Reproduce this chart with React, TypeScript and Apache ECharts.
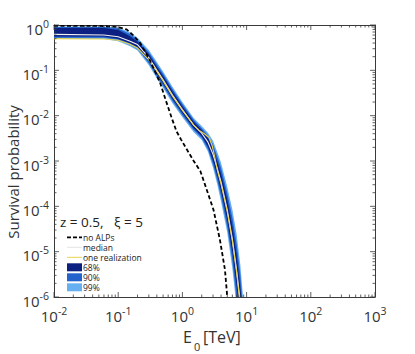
import { useEffect, useRef } from "react";
import * as echarts from "echarts";

// ---- data (E0 in TeV, survival probability) ----
const noAlps: [number, number][] = [
  [0.01, 0.96], [0.05, 0.96], [0.1, 0.9], [0.135, 0.8], [0.17, 0.6], [0.22, 0.4],
  [0.31, 0.17], [0.45, 0.053], [0.55, 0.022], [0.68, 0.009], [0.81, 0.0045],
  [0.95, 0.003], [1.2, 0.0017], [1.5, 0.001], [1.9, 0.0006], [2.1, 0.0004],
  [2.4, 0.00023], [3.05, 8.4e-5], [3.85, 1.8e-5], [4.6, 4e-6], [5.0, 1e-6],
];
const median: [number, number][] = [
  [0.01, 0.62], [0.06, 0.6], [0.1, 0.55], [0.15, 0.445], [0.2, 0.37], [0.3, 0.19],
  [0.4, 0.1], [0.5, 0.062], [0.7, 0.0285], [1, 0.0136], [1.5, 0.0062], [2, 0.0041],
  [2.5, 0.0026], [3, 0.0014], [3.5, 6.8e-4], [4, 3.4e-4], [5, 8.3e-5], [6, 1.9e-5],
  [7, 3.8e-6], [7.8, 1e-6],
];
const realization: [number, number][] = [
  [0.01, 0.5], [0.06, 0.49], [0.1, 0.46], [0.15, 0.38], [0.2, 0.31], [0.3, 0.17],
  [0.4, 0.095], [0.5, 0.058], [0.7, 0.027], [1, 0.013], [1.5, 0.0062], [1.8, 0.0048],
  [2.2, 0.004], [2.6, 0.0033], [2.9, 0.0022], [3.2, 0.0012], [3.5, 6.2e-4], [4, 3.1e-4],
  [5, 7.5e-5], [6, 1.7e-5], [7, 3.4e-6], [7.7, 1e-6],
];
const band99Upper: [number, number][] = [
  [0.01, 0.93], [0.06, 0.93], [0.1, 0.88], [0.15, 0.7], [0.2, 0.52], [0.3, 0.28],
  [0.4, 0.152], [0.5, 0.094], [0.7, 0.0434], [1, 0.0201], [1.5, 0.0089], [2, 0.0059],
  [2.5, 0.0042], [3, 0.0028], [3.5, 0.00155], [4, 0.00091], [5, 0.000266], [6, 8.5e-5],
  [7, 2.4e-5], [8, 5e-6], [8.8, 1e-6],
];
const band99Lower: [number, number][] = [
  [0.01, 0.49], [0.06, 0.49], [0.1, 0.44], [0.15, 0.345], [0.2, 0.273], [0.3, 0.13],
  [0.4, 0.066], [0.5, 0.041], [0.7, 0.0187], [1, 0.0092], [1.5, 0.0043], [2, 0.0029],
  [2.5, 0.0016], [3, 7.1e-4], [3.5, 3.0e-4], [4, 1.27e-4], [5, 2.6e-5], [6, 4.2e-6],
  [6.7, 1e-6],
];
const band90Upper: [number, number][] = [
  [0.01, 0.9], [0.06, 0.9], [0.1, 0.84], [0.15, 0.64], [0.2, 0.47], [0.3, 0.25],
  [0.4, 0.136], [0.5, 0.084], [0.7, 0.0388], [1, 0.0182], [1.5, 0.0081], [2, 0.0053],
  [2.5, 0.0037], [3, 0.0023], [3.5, 0.00125], [4, 7.0e-4], [5, 1.95e-4], [6, 5.7e-5],
  [7, 1.45e-5], [8, 3e-6], [8.5, 1e-6],
];
const band90Lower: [number, number][] = [
  [0.01, 0.52], [0.06, 0.52], [0.1, 0.47], [0.15, 0.37], [0.2, 0.3], [0.3, 0.143],
  [0.4, 0.073], [0.5, 0.0455], [0.7, 0.021], [1, 0.0102], [1.5, 0.0048], [2, 0.0032],
  [2.5, 0.00182], [3, 8.5e-4], [3.5, 3.7e-4], [4, 1.65e-4], [5, 3.5e-5], [6, 6.3e-6],
  [6.95, 1e-6],
];
const band68Upper: [number, number][] = [
  [0.01, 0.86], [0.06, 0.86], [0.1, 0.78], [0.15, 0.57], [0.2, 0.425], [0.3, 0.225],
  [0.4, 0.12], [0.5, 0.075], [0.7, 0.0344], [1, 0.0162], [1.5, 0.0073], [2, 0.0048],
  [2.5, 0.0032], [3, 0.0019], [3.5, 9.8e-4], [4, 5.3e-4], [5, 1.4e-4], [6, 3.7e-5],
  [7, 8.6e-6], [8, 1.6e-6], [8.3, 1e-6],
];
const band68Lower: [number, number][] = [
  [0.01, 0.56], [0.06, 0.56], [0.1, 0.5], [0.15, 0.4], [0.2, 0.323], [0.3, 0.16],
  [0.4, 0.083], [0.5, 0.0516], [0.7, 0.0236], [1, 0.0114], [1.5, 0.0053], [2, 0.0035],
  [2.5, 0.0021], [3, 0.00103], [3.5, 4.7e-4], [4, 2.2e-4], [5, 4.9e-5], [6, 9.8e-6],
  [7, 1.68e-6], [7.3, 1e-6],
];
const xDecades = [-2, -1, 0, 1, 2, 3];
const yDecades = [-6, -5, -4, -3, -2, -1, 0];
const minorMultipliers = [2, 3, 4, 5, 6, 7, 8, 9];
const legendLabels = ["no ALPs", "median", "one realization", "68%", "90%", "99%"];
const paramLabel = "z = 0.5,   \u03BE = 5";

const C68 = "#0b2080";
const C90 = "#2462cc";
const C99 = "#66b0f2";
const AXIS = "#3a3a3a";
const FONT = "'Open Sans', sans-serif";

function bandSeries(upper: [number, number][], lower: [number, number][], color: string) {
  return {
    type: "custom",
    coordinateSystem: "cartesian2d",
    silent: true,
    clip: true,
    z: 1,
    data: [upper[0]],
    renderItem: (_p: any, api: any) => {
      const pts = upper.map((d) => api.coord(d)).concat(lower.slice().reverse().map((d) => api.coord(d)));
      return { type: "polygon", shape: { points: pts }, style: { fill: color } };
    },
  };
}

export default function App() {
  const ref = useRef<HTMLDivElement>(null);
  useEffect(() => {
    if (!ref.current) return;
    const chart = echarts.init(ref.current, null, { renderer: "svg" });
    const minX: number[] = [];
    xDecades.slice(0, -1).forEach((e) => minorMultipliers.forEach((m) => minX.push(m * Math.pow(10, e))));
    const minY: number[] = [];
    yDecades.slice(0, -1).forEach((e) => minorMultipliers.forEach((m) => minY.push(m * Math.pow(10, e))));
    const majX = xDecades.map((e) => Math.pow(10, e));
    const majY = yDecades.map((e) => Math.pow(10, e));

    const labelFmt = (v: number) => `{b|10}{e|${Math.round(Math.log10(v))}}`;
    const rich = {
      b: { fontSize: 15, fontFamily: FONT, color: "#333", lineHeight: 18, verticalAlign: "bottom" },
      e: { fontSize: 10.5, fontFamily: FONT, color: "#333", lineHeight: 10, verticalAlign: "top" },
    };
    const baseX = {
      type: "log", logBase: 10, min: 0.01, max: 1000,
      axisLine: { show: true, lineStyle: { color: AXIS, width: 1 } },
      axisTick: { show: false }, splitLine: { show: false }, minorTick: { show: false },
    };
    const baseY = {
      type: "log", logBase: 10, min: 1e-6, max: 1,
      axisLine: { show: true, lineStyle: { color: AXIS, width: 1 } },
      axisTick: { show: false }, splitLine: { show: false }, minorTick: { show: false },
    };

    const tickSeries = {
      type: "custom",
      coordinateSystem: "cartesian2d",
      silent: true,
      z: 5,
      data: [[1, 0.001]],
      renderItem: (params: any, api: any) => {
        const cs = params.coordSys;
        const top = cs.y, bottom = cs.y + cs.height, left = cs.x, right = cs.x + cs.width;
        const kids: any[] = [];
        const st = { stroke: AXIS, lineWidth: 0.8 };
        const addX = (v: number, len: number) => {
          const x = api.coord([v, 1e-3])[0];
          kids.push({ type: "line", shape: { x1: x, y1: bottom, x2: x, y2: bottom - len }, style: st });
          kids.push({ type: "line", shape: { x1: x, y1: top, x2: x, y2: top + len }, style: st });
        };
        const addY = (v: number, len: number) => {
          const y = api.coord([1, v])[1];
          kids.push({ type: "line", shape: { x1: left, y1: y, x2: left + len, y2: y }, style: st });
          kids.push({ type: "line", shape: { x1: right, y1: y, x2: right - len, y2: y }, style: st });
        };
        majX.forEach((v) => addX(v, 5));
        minX.forEach((v) => addX(v, 2.5));
        majY.forEach((v) => addY(v, 5));
        minY.forEach((v) => addY(v, 2.5));
        return { type: "group", children: kids };
      },
    };

    const legendX = 67, legendW = 15, textX = 83;
    const legendRows = [237.3, 247.3, 257.3, 267.3, 277.3, 287.3];
    const tstyle = (txt: string, y: number) => ({
      type: "text", x: textX, y,
      style: { text: txt, font: `8.5px ${FONT}`, fill: "#222", verticalAlign: "middle", textVerticalAlign: "middle" },
      z: 10,
    });

    chart.setOption({
      animation: false,
      backgroundColor: "#ffffff",
      grid: { left: 54, right: 40, top: 25, bottom: 57, containLabel: false, outerBoundsMode: "none" },
      xAxis: [
        {
          ...baseX, position: "bottom",
          axisLabel: {
            show: true, formatter: labelFmt, rich, margin: 8, showMinLabel: true, showMaxLabel: true,
          },
        },
        { ...baseX, position: "top", axisLabel: { show: false } },
      ],
      yAxis: [
        {
          ...baseY, position: "left", splitNumber: 6,
          axisLabel: { show: true, formatter: labelFmt, rich, margin: 5, showMinLabel: true, showMaxLabel: true, padding: [4, 0, 0, 0] },
        },
        { ...baseY, position: "right", splitNumber: 6, axisLabel: { show: false } },
      ],
      series: [
        bandSeries(band99Upper, band99Lower, C99),
        bandSeries(band90Upper, band90Lower, C90),
        bandSeries(band68Upper, band68Lower, C68),
        {
          type: "line", data: median, showSymbol: false, symbol: "none", z: 3,
          lineStyle: { color: "#f2f2f2", width: 1.1 },
        },
        {
          type: "line", data: realization, showSymbol: false, symbol: "none", z: 3,
          lineStyle: { color: "#e8d44d", width: 1.1 },
        },
        {
          type: "line", data: noAlps, showSymbol: false, symbol: "none", z: 4,
          lineStyle: { color: "#000", width: 1.8, type: [4, 2.5] },
        },
        tickSeries,
      ],
      graphic: [
        {
          type: "text", x: 60, y: 222, z: 10,
          style: { text: paramLabel, font: `13.5px ${FONT}`, fill: "#222", verticalAlign: "middle", textVerticalAlign: "middle" },
        },
        { type: "line", z: 10, shape: { x1: legendX, y1: legendRows[0], x2: legendX + legendW, y2: legendRows[0] }, style: { stroke: "#000", lineWidth: 1.8, lineDash: [4, 2] } },
        { type: "line", z: 10, shape: { x1: legendX, y1: legendRows[1], x2: legendX + legendW, y2: legendRows[1] }, style: { stroke: "#e4e4e4", lineWidth: 1 } },
        { type: "line", z: 10, shape: { x1: legendX, y1: legendRows[2], x2: legendX + legendW, y2: legendRows[2] }, style: { stroke: "#e8d44d", lineWidth: 1 } },
        { type: "rect", z: 10, shape: { x: legendX, y: legendRows[3] - 4, width: legendW, height: 8 }, style: { fill: C68 } },
        { type: "rect", z: 10, shape: { x: legendX, y: legendRows[4] - 4, width: legendW, height: 8 }, style: { fill: C90 } },
        { type: "rect", z: 10, shape: { x: legendX, y: legendRows[5] - 4, width: legendW, height: 8 }, style: { fill: C99 } },
        ...legendLabels.map((t, i) => tstyle(t, legendRows[i])),
        {
          type: "text", x: 12.5, y: 172, rotation: Math.PI / 2, z: 10,
          style: { text: "Survival probability", font: `15px ${FONT}`, fill: "#333", align: "center", textAlign: "center", verticalAlign: "middle", textVerticalAlign: "middle" },
        },
        {
          type: "text", x: 183, y: 337, z: 10,
          style: { text: "E", font: `16px ${FONT}`, fill: "#333", verticalAlign: "middle", textVerticalAlign: "middle" },
        },
        {
          type: "text", x: 194, y: 346, z: 10,
          style: { text: "0", font: `11px ${FONT}`, fill: "#333", verticalAlign: "middle", textVerticalAlign: "middle" },
        },
        {
          type: "text", x: 203, y: 337, z: 10,
          style: { text: "[TeV]", font: `16px ${FONT}`, fill: "#333", verticalAlign: "middle", textVerticalAlign: "middle" },
        },
      ],
    });
    return () => chart.dispose();
  }, []);
  return <div ref={ref} style={{ width: 415, height: 354, position: "absolute", left: 0, top: 0 }} />;
}
